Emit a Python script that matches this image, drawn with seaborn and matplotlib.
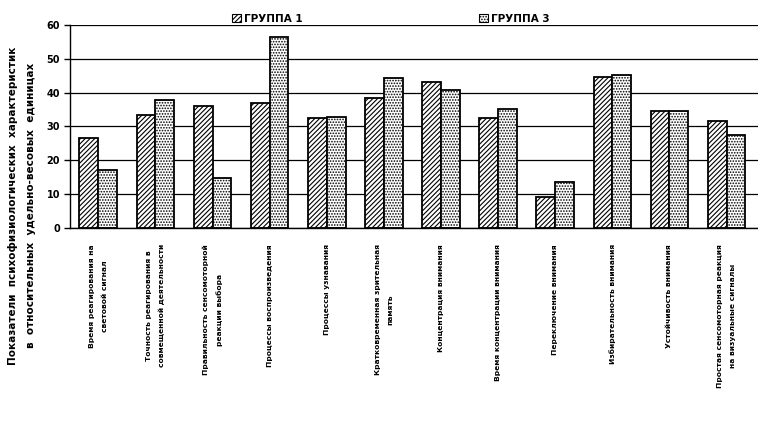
import matplotlib
matplotlib.use("Agg")
import matplotlib.pyplot as plt
import seaborn as sns
import pandas as pd

categories = [
    "Время реагирования на\nсветовой сигнал",
    "Точность реагирования в\nсовмещенной деятельности",
    "Правильность сенсомоторной\nреакции выбора",
    "Процессы воспроизведения",
    "Процессы узнавания",
    "Кратковременная зрительная\nпамять",
    "Концентрация внимания",
    "Время концентрации внимания",
    "Переключение внимания",
    "Избирательность внимания",
    "Устойчивость внимания",
    "Простая сенсомоторная реакция\nна визуальные сигналы",
]
group1 = [26.6, 33.4, 35.9, 36.9, 32.4, 38.3, 43.1, 32.4, 9.3, 44.6, 34.6, 31.7]
group3 = [17.2, 37.7, 14.9, 56.3, 32.7, 44.2, 40.8, 35.2, 13.7, 45.2, 34.6, 27.5]
groups = ["ГРУППА 1", "ГРУППА 3"]
y_ticks = [0, 10, 20, 30, 40, 50, 60]
y_label = ("Показатели  психофизиологических  характеристик\n"
           "в  относительных  удельно-весовых  единицах")

df = pd.DataFrame({
    "cat": categories * 2,
    "val": group1 + group3,
    "grp": [groups[0]] * len(categories) + [groups[1]] * len(categories),
})

sns.set_style("white")
plt.rcParams['font.family'] = ['Liberation Sans Narrow', 'DejaVu Sans']
plt.rcParams['hatch.linewidth'] = 0.8
plt.rcParams['text.color'] = 'black'
plt.rcParams['xtick.color'] = 'black'
plt.rcParams['ytick.color'] = 'black'

fig = plt.figure(figsize=(7.58, 4.28), dpi=100)
ax = fig.add_axes([0.092, 0.467, 0.908, 0.475])

sns.barplot(data=df, x="cat", y="val", hue="grp", order=categories,
            hue_order=groups, palette=["white", "white"], width=0.66,
            edgecolor="black", linewidth=1.3, ax=ax, legend=False)

hatches = ["///////", "......"]
for cont, h in zip(ax.containers, hatches):
    for p in cont.patches:
        p.set_hatch(h)

ax.set_ylim(0, 60)
ax.set_xlim(-0.5, 11.55)
ax.set_yticks(y_ticks)
ax.yaxis.grid(True, color="black", linewidth=0.9)
ax.set_axisbelow(True)
for s in ["top", "right"]:
    ax.spines[s].set_visible(False)
ax.spines["left"].set_color("black")
ax.spines["bottom"].set_color("black")
ax.spines["left"].set_linewidth(1.0)
ax.spines["bottom"].set_linewidth(1.0)
ax.tick_params(axis="y", left=True, length=4, width=1, labelsize=7, pad=3)
ax.tick_params(axis="x", bottom=False, pad=8)
for t in ax.get_yticklabels():
    t.set_fontweight("bold")

ax.set_xticks(range(len(categories)))
ax.set_xticklabels(categories, rotation=90, fontsize=5.4, fontweight="bold",
                   ha="center", va="top", multialignment="center",
                   linespacing=2.3)
ax.set_xlabel("")
ax.set_ylabel("")

fig.text(0.029, 0.52, y_label, rotation=90, ha="center", va="center",
         fontsize=7.5, fontweight="bold", multialignment="center",
         linespacing=2.0)

handles = [matplotlib.patches.Patch(facecolor="white", edgecolor="black",
                                    hatch=h, linewidth=0.8) for h in hatches]
leg = ax.legend(handles, groups, loc="lower left",
                bbox_to_anchor=(0.23, 0.985), ncol=2,
                frameon=False, fontsize=7.5, handlelength=0.8,
                handleheight=0.8, handletextpad=0.3, columnspacing=17,
                borderaxespad=0)
for t in leg.get_texts():
    t.set_fontweight("bold")

fig.savefig("out.png", dpi=100)
